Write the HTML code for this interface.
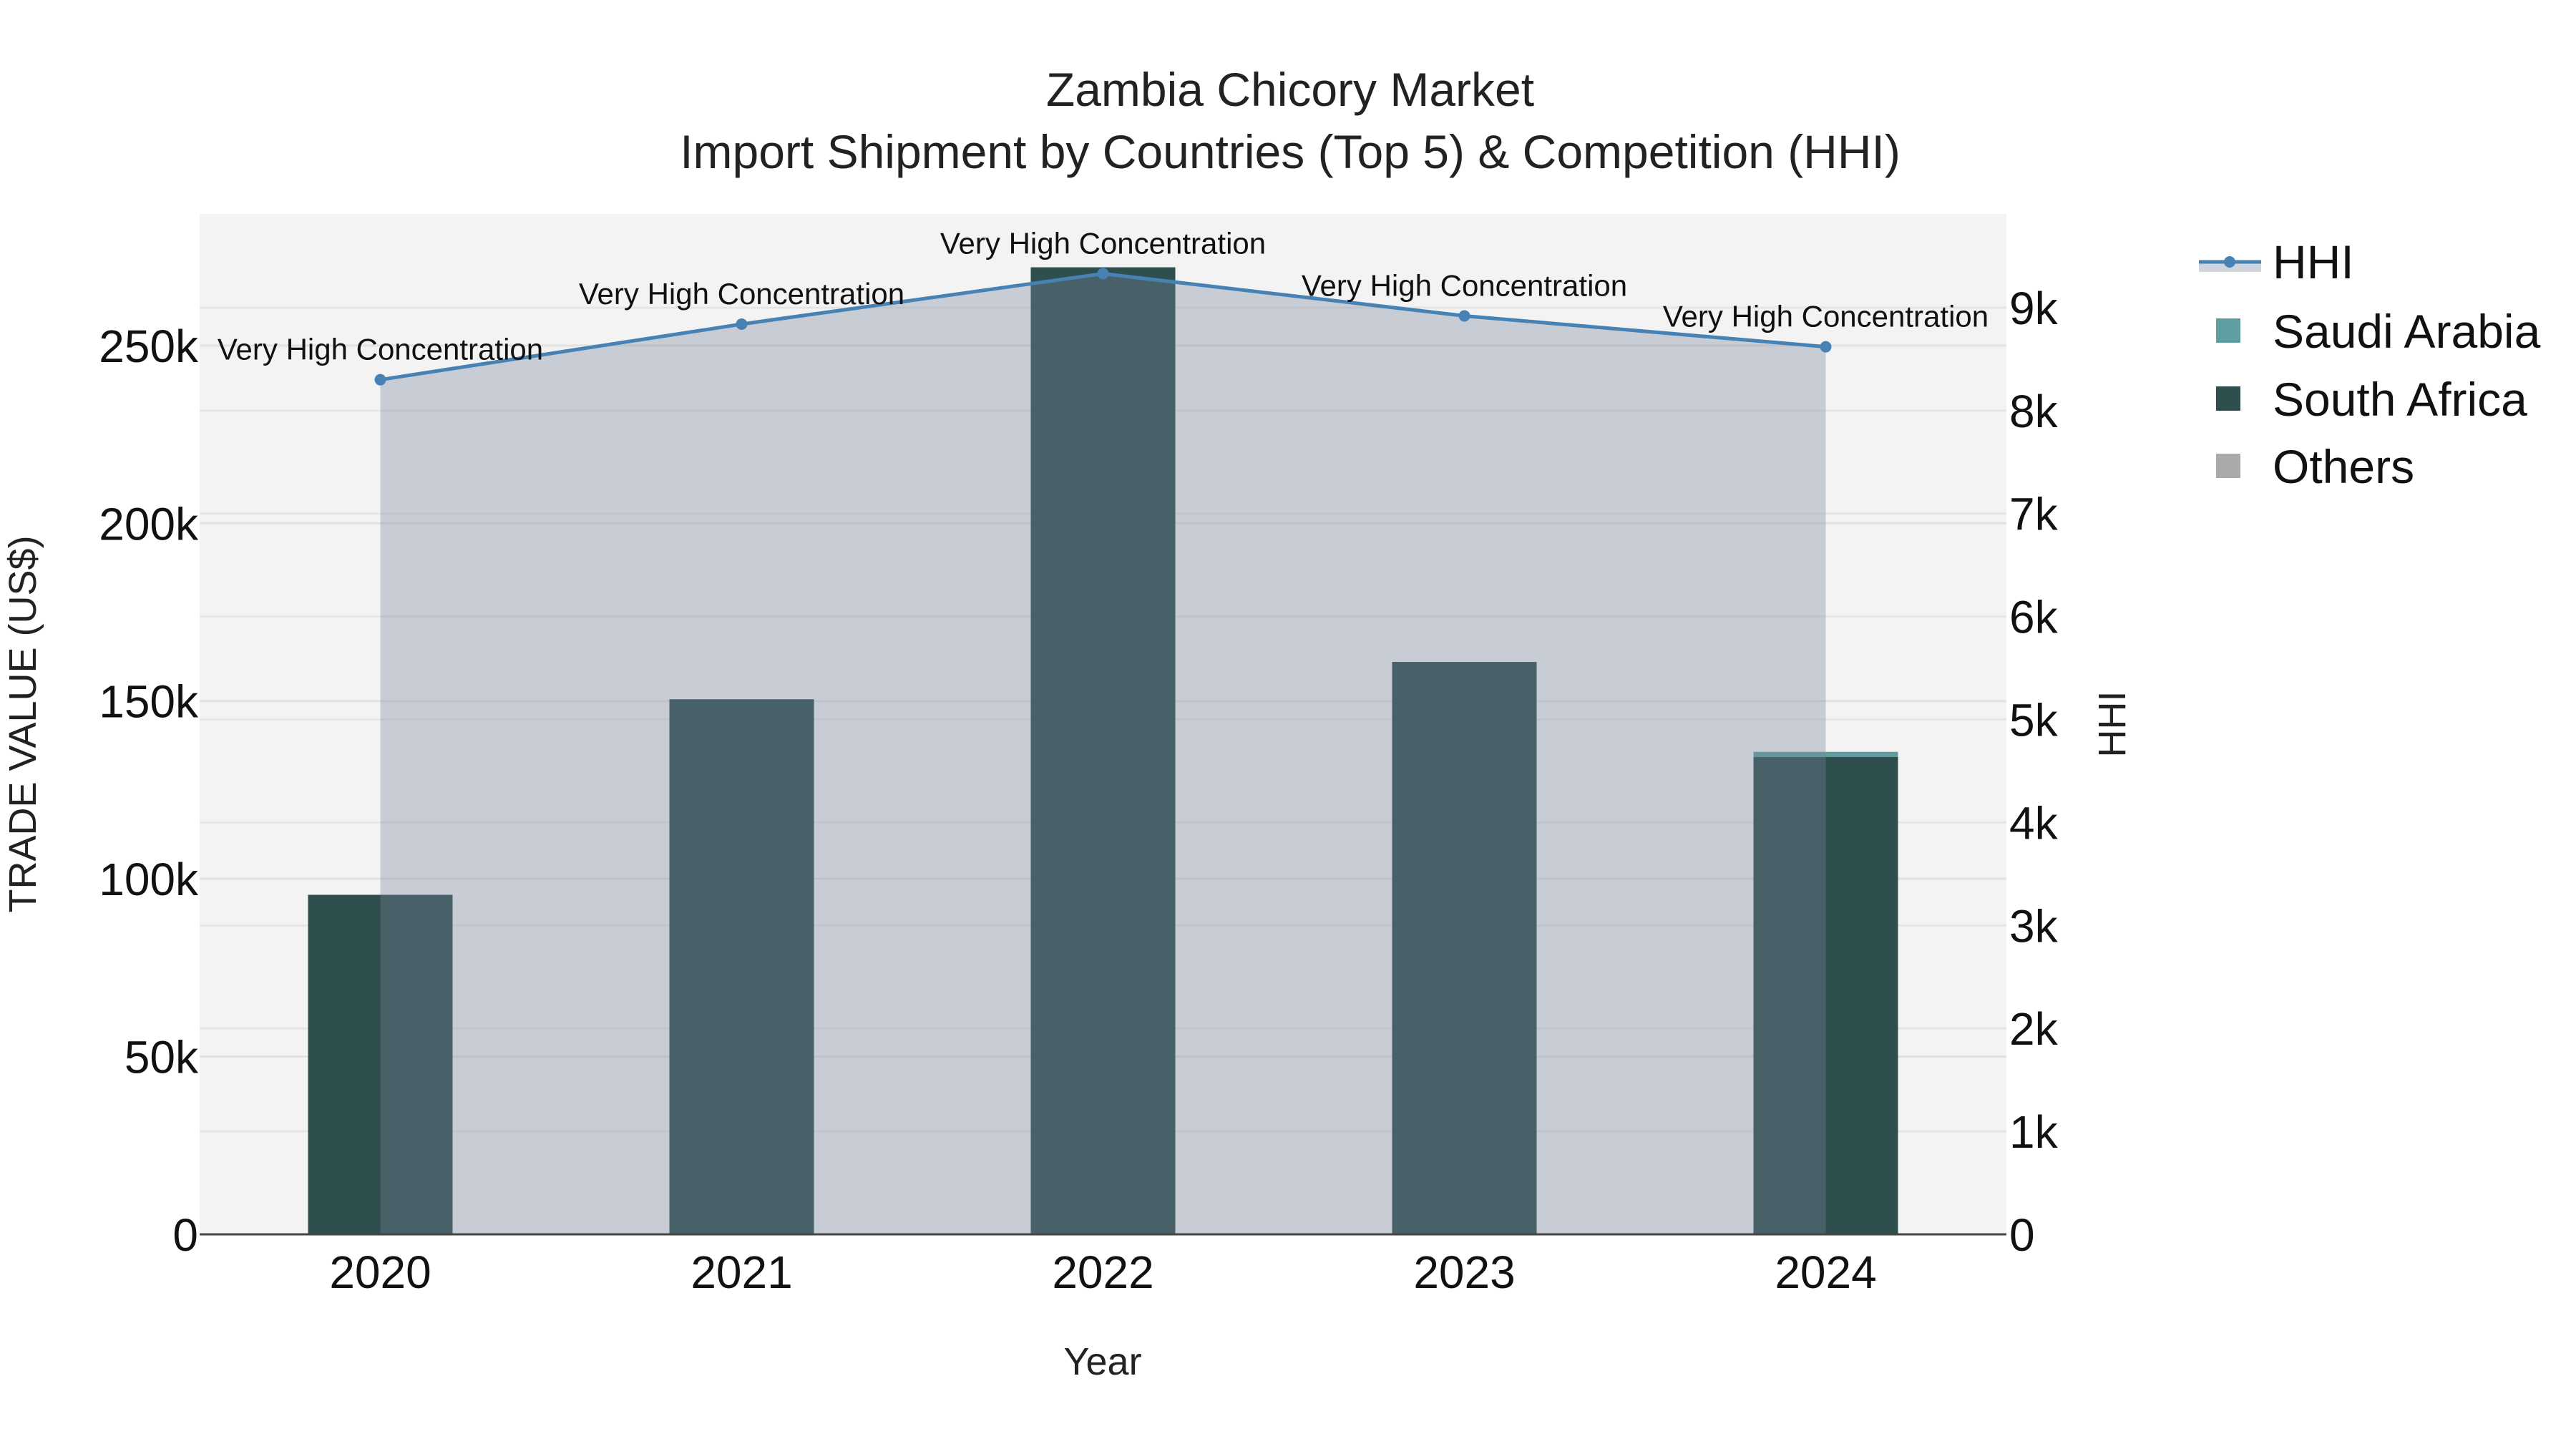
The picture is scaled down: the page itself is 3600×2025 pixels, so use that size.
<!DOCTYPE html>
<html><head><meta charset="utf-8">
<style>
html,body{margin:0;padding:0;background:#fff;}
svg{display:block;font-family:"Liberation Sans",Arial,sans-serif;}
</style></head>
<body>
<svg id="chart" width="3600" height="2025" viewBox="0 0 3600 2025" xmlns="http://www.w3.org/2000/svg">
<rect width="3600" height="2025" fill="#ffffff"/>
<rect x="279" y="299" width="2525" height="1426" fill="#f3f3f3"/>
<g id="grid"></g>
<g id="bars"></g>
<g id="hhi"></g>
<line x1="279" y1="1725" x2="2804" y2="1725" stroke="#444" stroke-width="3"/>
<g id="ticks" font-size="64" fill="#111"></g>
<text x="1803" y="148" text-anchor="middle" font-size="66" fill="#222">Zambia Chicory Market</text>
<text x="1803" y="235" text-anchor="middle" font-size="66" fill="#222">Import Shipment by Countries (Top 5) &amp; Competition (HHI)</text>
<text x="1541" y="1921" text-anchor="middle" font-size="54" fill="#222">Year</text>
<text transform="translate(50,1012) rotate(-90)" text-anchor="middle" font-size="54" fill="#222">TRADE VALUE (US$)</text>
<text transform="translate(2970,1012) rotate(-90)" text-anchor="middle" font-size="54" fill="#222">HHI</text>
<g font-size="66" fill="#111">
  <g>
    <rect x="3073" y="366" width="87" height="14" fill="rgba(120,131,154,0.35)"/>
    <line x1="3073" y1="366" x2="3160" y2="366" stroke="#4682B4" stroke-width="5"/>
    <circle cx="3116" cy="366" r="8" fill="#4682B4"/>
    <text x="3176" y="389">HHI</text>
  </g>
  <g>
    <rect x="3097" y="445" width="34" height="34" fill="#5F9EA0"/>
    <text x="3176" y="486">Saudi Arabia</text>
  </g>
  <g>
    <rect x="3097" y="540" width="34" height="34" fill="#2F4F4F"/>
    <text x="3176" y="581">South Africa</text>
  </g>
  <g>
    <rect x="3097" y="634" width="34" height="34" fill="#aaaaaa"/>
    <text x="3176" y="675">Others</text>
  </g>
</g>
<script>
const years = ['2020','2021','2022','2023','2024'];
const southAfrica = [95500, 150500, 272000, 161000, 134300];
const saudiArabia = [0, 0, 0, 0, 1400];
const others = [0, 0, 0, 0, 0];
const hhi = [8300, 8840, 9330, 8920, 8620];
const hhiLabels = ['Very High Concentration','Very High Concentration','Very High Concentration','Very High Concentration','Very High Concentration'];
const yTicks = [0, 50000, 100000, 150000, 200000, 250000];
const yTickLabels = ['0','50k','100k','150k','200k','250k'];
const y2Ticks = [0,1000,2000,3000,4000,5000,6000,7000,8000,9000];
const y2TickLabels = ['0','1k','2k','3k','4k','5k','6k','7k','8k','9k'];

const NS='http://www.w3.org/2000/svg';
const L=279,R=2804,T=299,B=1725;
const yMax=287000, y2Max=9910;
const band=(R-L)/years.length;
const xPos=i=>L+band*(i+0.5);
const yS=v=>B-(v/yMax)*(B-T);
const y2S=v=>B-(v/y2Max)*(B-T);
function mk(tag,attrs,parent){const e=document.createElementNS(NS,tag);for(const k in attrs)e.setAttribute(k,attrs[k]);parent.appendChild(e);return e;}

const grid=document.getElementById('grid');
const ticks=document.getElementById('ticks');
yTicks.forEach((v,i)=>{
  if(v>0){const g=mk('line',{x1:L,x2:R,y1:yS(v),y2:yS(v),stroke:'#e2e2e2','stroke-width':3},grid);
  
  }
  const t=mk('text',{x:L-2,y:yS(v)+23,'text-anchor':'end'},ticks);
  
  
  t.textContent=yTickLabels[i];
});
y2Ticks.forEach((v,i)=>{
  if(v>0){const g=mk('line',{x1:L,x2:R,y1:y2S(v),y2:y2S(v),stroke:'#e6e6e6','stroke-width':3},grid);
  
  }
  const t=mk('text',{x:R+4,y:y2S(v)+23,'text-anchor':'start'},ticks);
  
  
  t.textContent=y2TickLabels[i];
});
years.forEach((yr,i)=>{
  const t=mk('text',{x:xPos(i),y:1800,'text-anchor':'middle'},ticks);
  
  
  t.textContent=yr;
});

const bars=document.getElementById('bars');
const bw=band*0.4;
years.forEach((yr,i)=>{
  let base=0;
  [[southAfrica,'#2F4F4F','south-africa'],[saudiArabia,'#5F9EA0','saudi-arabia'],[others,'#aaaaaa','others']].forEach(([arr,col,nm])=>{
    const v=arr[i]; if(v<=0) return;
    const r=mk('rect',{x:xPos(i)-bw/2,y:yS(base+v),width:bw,height:yS(base)-yS(base+v),fill:col},bars);
    
    
    base+=v;
  });
});

const hg=document.getElementById('hhi');
let d='M'+xPos(0)+','+B;
hhi.forEach((v,i)=>{d+=' L'+xPos(i)+','+y2S(v);});
d+=' L'+xPos(hhi.length-1)+','+B+' Z';
const area=mk('path',{d:d,fill:'rgba(120,131,154,0.35)'},hg);


const line=mk('polyline',{points:hhi.map((v,i)=>xPos(i)+','+y2S(v)).join(' '),fill:'none',stroke:'#4682B4','stroke-width':5},hg);


hhi.forEach((v,i)=>{
  const c=mk('circle',{cx:xPos(i),cy:y2S(v),r:8,fill:'#4682B4'},hg);
  
  
  const t=mk('text',{x:xPos(i),y:y2S(v)-28,'text-anchor':'middle','font-size':42,fill:'#111'},hg);
  
  
  t.textContent=hhiLabels[i];
});
</script>
</svg>
</body></html>
